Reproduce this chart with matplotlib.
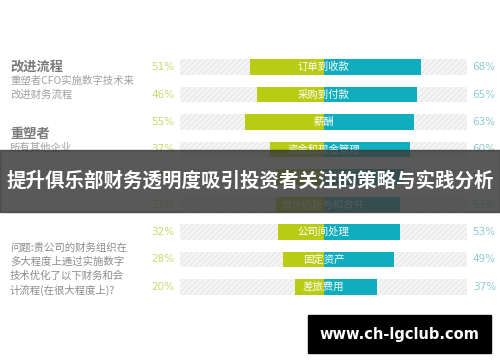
import matplotlib
matplotlib.use("Agg")
import matplotlib.pyplot as plt
from matplotlib.patches import Rectangle

plt.rcParams['font.family'] = ['Noto Sans CJK SC', 'DejaVu Sans']
plt.rcParams['hatch.linewidth'] = 0.6

processes = ["订单到收款", "采购到付款", "薪酬", "资金和现金管理", "外部财务报告",
             "会计结账与和合并", "公司间处理", "固定资产", "差旅费用"]
others = [51, 46, 55, 37, 33, 33, 32, 28, 20]      # 所有其他企业 (green, left)
reshapers = [68, 65, 63, 60, 56, 53, 53, 49, 37]   # 重塑者 (teal, right)

green = "#b8cc14"
teal = "#0fadbd"

W, H = 500, 362
fig = plt.figure(figsize=(W / 100, H / 100), dpi=100)

# bar area: track spans x 180..467 px, rows 67..287 px
top_px, bot_px = 53.25, 300.75
ax = fig.add_axes([180 / W, 1 - bot_px / H, 287 / W, (bot_px - top_px) / H])
ax.set_xlim(-100, 100)
ax.set_ylim(len(processes) - 0.5, -0.5)
ax.axis("off")

ys = range(len(processes))
h = 0.56
ax.barh(ys, [200] * len(ys), left=-100, height=h, color="#f4f4f4",
        edgecolor="#e4e4e4", hatch="//////", linewidth=0)
ax.barh(ys, [-v for v in others], height=h, color=green, linewidth=0)
ax.barh(ys, reshapers, height=h, color=teal, linewidth=0)

for y, name, a, b in zip(ys, processes, others, reshapers):
    ax.text(0, y, name, color="white", fontsize=7.5, ha="center", va="center")
    ax.text(-104, y, f"{a}%", color="#c9da6e", fontsize=7.5, ha="right",
            va="center", clip_on=False, family="DejaVu Sans")
    ax.text(112, y, f"{b}%", color="#8ccbd3", fontsize=7.5, ha="center",
            va="center", clip_on=False, family="DejaVu Sans")

# left side annotations
def ftext(x, y, s, **kw):
    fig.text(x / W, 1 - y / H, s, va="center", ha="left", **kw)

ftext(10, 67, "改进流程", fontsize=9.5, color="#7a7a7a", weight="bold")
ftext(10, 81, "重塑者CFO实施数字技术来", fontsize=7.5, color="#a0a0a0")
ftext(10, 95, "改进财务流程", fontsize=7.5, color="#a0a0a0")
ftext(10, 134, "重塑者", fontsize=9.5, color="#7a7a7a", weight="bold")
ftext(10, 148, "所有其他企业", fontsize=7.5, color="#a0a0a0")
for i, line in enumerate(["问题:贵公司的财务组织在", "多大程度上通过实施数字",
                          "技术优化了以下财务和会", "计流程(在很大程度上)?"]):
    ftext(10, 248 + 14 * i, line, fontsize=7.5, color="#8c8c8c")

# title banner
fig.patches.append(Rectangle((0, 1 - 212 / H), 1, 62 / H, transform=fig.transFigure,
                             color="#3c3c3c", alpha=0.85, zorder=5))
fig.text(0.5, 1 - 181 / H, "提升俱乐部财务透明度吸引投资者关注的策略与实践分析",
         color="white", fontsize=14, weight="bold", ha="center", va="center",
         zorder=6)

# watermark
fig.patches.append(Rectangle((308 / W, 1 - 353 / H), 183 / W, 38 / H,
                             transform=fig.transFigure, color="black", zorder=5))
fig.text(399.5 / W, 1 - 334 / H, "www.ch-lgclub.com", color="white", fontsize=10.5,
         weight="bold", ha="center", va="center", zorder=6, family="DejaVu Sans")

fig.savefig("out.png", dpi=100)
